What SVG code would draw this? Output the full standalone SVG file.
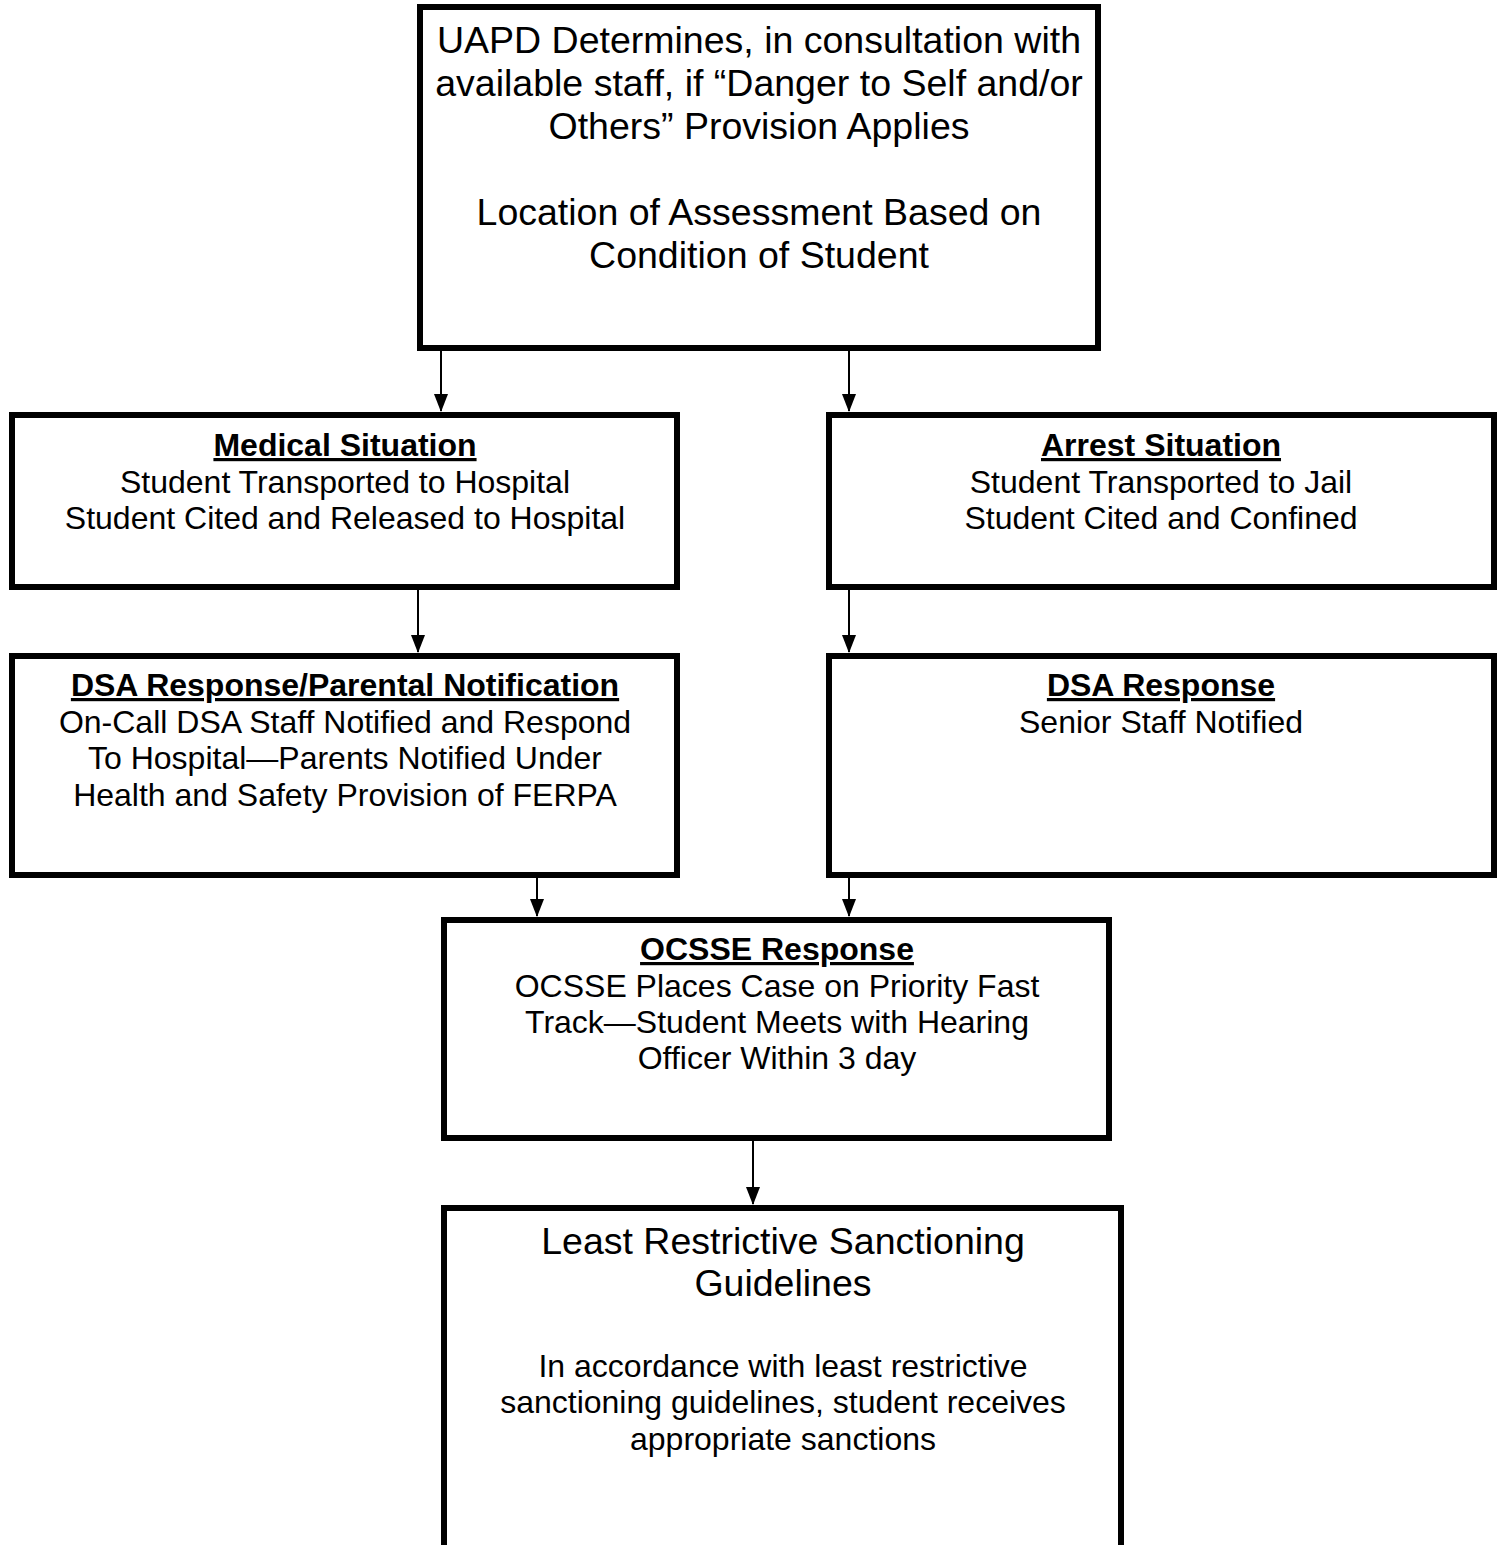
<svg xmlns="http://www.w3.org/2000/svg" width="1504" height="1545" viewBox="0 0 1504 1545">
<style>
.box{fill:#fff;stroke:#000;stroke-width:6}
.t{font-family:"Liberation Sans",Arial,sans-serif;fill:#000;text-anchor:middle}
.big{font-size:37.5px}
.sm{font-size:32px}
.hd{font-size:32px;font-weight:bold;text-decoration:underline}
.conn{stroke:#000;stroke-width:2;fill:none}
</style>
<defs>
<marker id="ah" markerUnits="userSpaceOnUse" markerWidth="18" markerHeight="14" refX="17" refY="7" orient="auto">
<path d="M0,0 L18,7 L0,14 Z" fill="#000"/>
</marker>
</defs>
<rect width="1504" height="1545" fill="#fff"/>
<g id="connectors">
<line class="conn" x1="441" y1="351" x2="441" y2="411" marker-end="url(#ah)"/>
<line class="conn" x1="849" y1="351" x2="849" y2="411" marker-end="url(#ah)"/>
<line class="conn" x1="418" y1="590" x2="418" y2="652" marker-end="url(#ah)"/>
<line class="conn" x1="849" y1="590" x2="849" y2="652" marker-end="url(#ah)"/>
<line class="conn" x1="537" y1="878" x2="537" y2="916" marker-end="url(#ah)"/>
<line class="conn" x1="849" y1="878" x2="849" y2="916" marker-end="url(#ah)"/>
<line class="conn" x1="753" y1="1141" x2="753" y2="1204" marker-end="url(#ah)"/>
</g>
<g id="uapd">
<rect class="box" x="420" y="7" width="678" height="341"/>
<text class="t big" x="759" y="53">UAPD Determines, in consultation with</text>
<text class="t big" x="759" y="96">available staff, if “Danger to Self and/or</text>
<text class="t big" x="759" y="139">Others” Provision Applies</text>
<text class="t big" x="759" y="225">Location of Assessment Based on</text>
<text class="t big" x="759" y="268">Condition of Student</text>
</g>
<g id="medical">
<rect class="box" x="12" y="415" width="665" height="172"/>
<text class="t hd" x="345" y="456">Medical Situation</text>
<text class="t sm" x="345" y="493">Student Transported to Hospital</text>
<text class="t sm" x="345" y="529">Student Cited and Released to Hospital</text>
</g>
<g id="arrest">
<rect class="box" x="829" y="415" width="665" height="172"/>
<text class="t hd" x="1161" y="456">Arrest Situation</text>
<text class="t sm" x="1161" y="493">Student Transported to Jail</text>
<text class="t sm" x="1161" y="529">Student Cited and Confined</text>
</g>
<g id="dsa-parental">
<rect class="box" x="12" y="656" width="665" height="219"/>
<text class="t hd" x="345" y="696">DSA Response/Parental Notification</text>
<text class="t sm" x="345" y="733">On-Call DSA Staff Notified and Respond</text>
<text class="t sm" x="345" y="769">To Hospital—Parents Notified Under</text>
<text class="t sm" x="345" y="806">Health and Safety Provision of FERPA</text>
</g>
<g id="dsa-response">
<rect class="box" x="829" y="656" width="665" height="219"/>
<text class="t hd" x="1161" y="696">DSA Response</text>
<text class="t sm" x="1161" y="733">Senior Staff Notified</text>
</g>
<g id="ocsse">
<rect class="box" x="444" y="920" width="665" height="218"/>
<text class="t hd" x="777" y="960">OCSSE Response</text>
<text class="t sm" x="777" y="997">OCSSE Places Case on Priority Fast</text>
<text class="t sm" x="777" y="1033">Track—Student Meets with Hearing</text>
<text class="t sm" x="777" y="1069">Officer Within 3 day</text>
</g>
<g id="sanctions">
<rect class="box" x="444" y="1208" width="677" height="400"/>
<text class="t big" x="783" y="1254">Least Restrictive Sanctioning</text>
<text class="t big" x="783" y="1296">Guidelines</text>
<text class="t sm" x="783" y="1377">In accordance with least restrictive</text>
<text class="t sm" x="783" y="1413">sanctioning guidelines, student receives</text>
<text class="t sm" x="783" y="1450">appropriate sanctions</text>
</g>
</svg>
